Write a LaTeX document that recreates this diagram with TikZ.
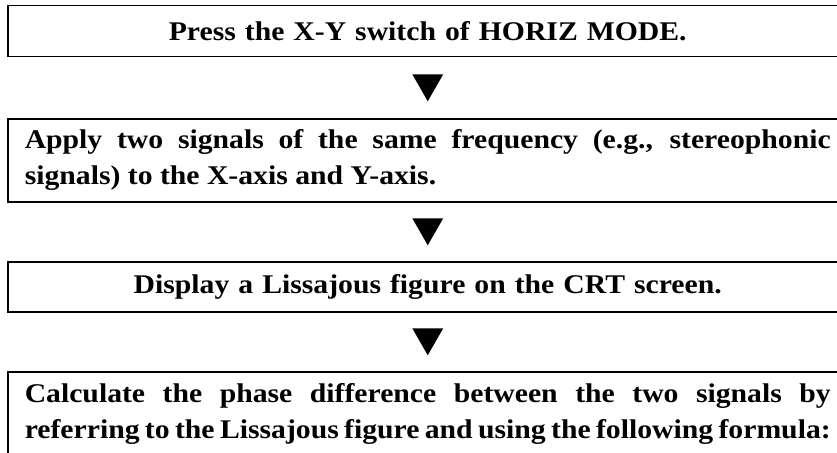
\documentclass[tikz,border=0pt]{standalone}
\usepackage{fontspec}
\setmainfont{Liberation Serif}[FakeStretch=1.1]
\usetikzlibrary{calc}
\begin{document}
\begin{tikzpicture}[x=1pt,y=-1pt,
  stepbox/.style={draw=black, line width=1.5pt, anchor=north west,
    text width=806pt, inner xsep=17pt, inner ysep=0pt,
    font=\fontsize{27}{36}\selectfont\bfseries},
  tri/.style={fill=black}]
\useasboundingbox (0,0) rectangle (837,452);
\begin{scope}
\clip (0,0) rectangle (837,452);
\node[stepbox, align=center, minimum height=51pt] (b1) at (7,5)
  {Press the X-Y switch of HORIZ MODE.};
\node[stepbox, align=justify, minimum height=83pt] (b2) at (7,118)
  {\hyphenpenalty=10000 Apply two signals of the same frequency (e.g., stereophonic\linebreak signals) to the X-axis and Y-axis.};
\node[stepbox, align=center, minimum height=50pt] (b3) at (7,261)
  {Display a Lissajous figure on the CRT screen.};
\node[stepbox, align=justify, inner ysep=12pt] (b4) at (7,371)
  {\hyphenpenalty=10000 \spaceskip=0.25em plus 0.6em minus 0.18em Calculate the phase difference between the two signals by\linebreak referring to the Lissajous figure and using the following formula:};
\end{scope}
\fill[tri] ($(b1.south)!0.5!(b2.north)$) ++(-15.5,-13.5) -- ++(31,0) -- ++(-15.5,27) -- cycle;
\fill[tri] ($(b2.south)!0.5!(b3.north)$) ++(-15.5,-13.5) -- ++(31,0) -- ++(-15.5,27) -- cycle;
\fill[tri] ($(b3.south)!0.5!(b4.north)$) ++(-15.5,-13.5) -- ++(31,0) -- ++(-15.5,27) -- cycle;
\end{tikzpicture}
\end{document}
